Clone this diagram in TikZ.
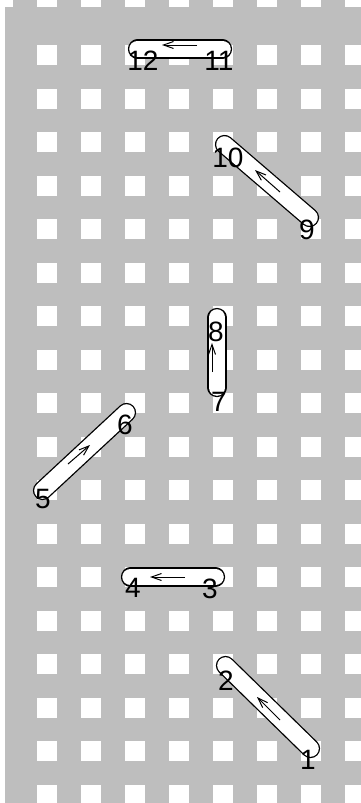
\documentclass[tikz,border=0pt]{standalone}
\usepackage{fontspec}
\setmainfont{Liberation Sans}
\usetikzlibrary{arrows.meta}
\definecolor{canvas}{RGB}{190,190,190}
\begin{document}
\begin{tikzpicture}[x=1pt,y=-1pt,
  capsule/.style={draw=black, double=white, double distance=16.6pt, line width=1.3pt, line cap=round},
  stitcharrow/.style={-{Straight Barb[length=10pt,width=7pt]}, line width=1pt},
  lbl/.style={font=\fontsize{28}{28}\selectfont, inner sep=0pt, text=black}]
\useasboundingbox (0,0) rectangle (361,803);
\begin{scope}
\clip (0,0) rectangle (361,803);
\fill[white] (0,0) rectangle (361,803);
\fill[canvas] (5,7) rectangle (361,803);
\foreach \k in {0,...,7} {
  \fill[canvas] ({13+44*\k},0) rectangle ({37+44*\k},7);
  \foreach \j in {0,...,17} {
    \fill[white] ({37+44*\k},{45+43.5*\j}) rectangle ({57+44*\k},{65+43.5*\j});
  }
}
\end{scope}
% stitch end points
\coordinate (s1) at (310.5,748.5);
\coordinate (s2) at (225.5,665.5);
\coordinate (s3) at (215.5,577);
\coordinate (s4) at (130.5,577);
\coordinate (s5) at (42.5,490.5);
\coordinate (s6) at (126.5,412.5);
\coordinate (s7) at (217,387.5);
\coordinate (s8) at (217,317.5);
\coordinate (s9) at (309.5,217.5);
\coordinate (s10) at (224.5,144.5);
\coordinate (s11) at (222.5,49);
\coordinate (s12) at (137.5,49);
% capsules
\draw[capsule] (s1) -- (s2);
\draw[capsule] (s3) -- (s4);
\draw[capsule] (s5) -- (s6);
\draw[capsule] (s7) -- (s8);
\draw[capsule] (s9) -- (s10);
\draw[capsule] (s11) -- (s12);
% arrows
\coordinate (a1t) at (280,720); \coordinate (a1h) at (257,697);
\coordinate (a2t) at (185,577); \coordinate (a2h) at (150,577);
\coordinate (a3t) at (68,464);  \coordinate (a3h) at (90,445);
\coordinate (a4t) at (212,372); \coordinate (a4h) at (212,343);
\coordinate (a5t) at (280,192); \coordinate (a5h) at (255,170);
\coordinate (a6t) at (197,45);  \coordinate (a6h) at (162,45);
\draw[stitcharrow] (a1t) -- (a1h);
\draw[stitcharrow] (a2t) -- (a2h);
\draw[stitcharrow] (a3t) -- (a3h);
\draw[stitcharrow] (a4t) -- (a4h);
\draw[stitcharrow] (a5t) -- (a5h);
\draw[stitcharrow] (a6t) -- (a6h);
% labels
\node[lbl] (l1) at (308,760) {1};
\node[lbl] (l2) at (226,681) {2};
\node[lbl] (l3) at (210,589) {3};
\node[lbl] (l4) at (133,588) {4};
\node[lbl] (l5) at (43,499) {5};
\node[lbl] (l6) at (125,425) {6};
\node[lbl] (l7) at (219,402) {7};
\node[lbl] (l8) at (216,332) {8};
\node[lbl] (l9) at (307,230) {9};
\node[lbl] (l10) at (228,158) {10};
\node[lbl] (l11) at (219,61) {11};
\node[lbl] (l12) at (143,61) {12};
\end{tikzpicture}
\end{document}
